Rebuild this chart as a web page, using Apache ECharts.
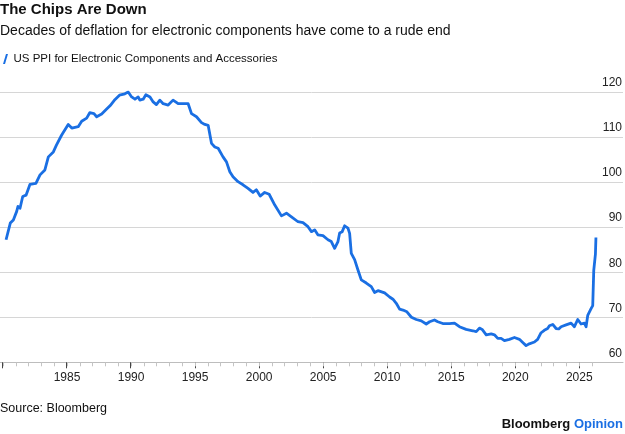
<!DOCTYPE html>
<html>
<head>
<meta charset="utf-8">
<script src="https://cdn.jsdelivr.net/npm/echarts@6/dist/echarts.min.js"></script>
<style>
  html, body { margin: 0; padding: 0; background: #fff; }
  #chart { width: 625px; height: 434px; }
</style>
</head>
<body>
<div id="chart"></div>
<script>
// US PPI, electronic components & accessories
var years = [
  1980.27, 1980.6, 1980.84, 1981.1, 1981.2, 1981.36, 1981.57, 1981.83, 1982.14, 1982.6,
  1982.92, 1983.3, 1983.57, 1983.96, 1984.2, 1984.6, 1985.12, 1985.4, 1985.9, 1986.17,
  1986.56, 1986.8, 1987.13, 1987.34, 1987.73, 1988.12, 1988.4, 1988.76, 1989.12, 1989.54,
  1989.8, 1990.07, 1990.33, 1990.58, 1990.71, 1990.97, 1991.18, 1991.5, 1991.75, 1992.0,
  1992.27, 1992.53, 1992.92, 1993.3, 1993.7, 1994.09, 1994.48, 1994.74, 1995.13, 1995.52,
  1995.78, 1996.04, 1996.3, 1996.56, 1996.82, 1997.2, 1997.47, 1997.73, 1997.98, 1998.37,
  1998.76, 1999.15, 1999.54, 1999.8, 2000.1, 2000.45, 2000.8, 2001.24, 2001.76, 2002.15,
  2002.54, 2003.05, 2003.44, 2003.83, 2004.1, 2004.35, 2004.6, 2005.0, 2005.39, 2005.65,
  2005.91, 2006.04, 2006.17, 2006.3, 2006.5, 2006.69, 2006.95, 2007.08, 2007.21, 2007.47,
  2007.73, 2007.99, 2008.38, 2008.77, 2009.03, 2009.29, 2009.81, 2010.2, 2010.46, 2010.72,
  2010.98, 2011.24, 2011.55, 2011.9, 2012.28, 2012.67, 2013.06, 2013.32, 2013.7, 2013.96,
  2014.35, 2014.87, 2015.26, 2015.65, 2016.17, 2016.69, 2016.96, 2017.21, 2017.42, 2017.74,
  2018.13, 2018.38, 2018.64, 2018.9, 2019.16, 2019.55, 2019.94, 2020.33, 2020.59, 2020.85,
  2021.1, 2021.5, 2021.75, 2022.0, 2022.27, 2022.53, 2022.67, 2022.93, 2023.19, 2023.4,
  2023.58, 2023.97, 2024.36, 2024.62, 2024.88, 2025.14, 2025.4, 2025.53, 2025.66, 2025.92,
  2026.05, 2026.13, 2026.26, 2026.3
];
var ppi = [
  87.2, 90.9, 91.6, 93.5, 94.6, 94.2, 96.8, 97.1, 99.5, 99.7,
  101.6, 102.7, 105.6, 106.7, 108.2, 110.4, 112.8, 112.0, 112.3, 113.5,
  114.2, 115.4, 115.2, 114.5, 115.1, 116.2, 117.0, 118.3, 119.3, 119.6,
  120.0, 118.9, 118.4, 118.9, 118.2, 118.4, 119.4, 118.9, 117.8, 117.2,
  118.2, 117.4, 117.1, 118.2, 117.4, 117.4, 117.4, 115.2, 114.5, 113.2,
  112.8, 112.6, 108.6, 107.8, 107.5, 105.6, 104.5, 102.3, 101.2, 100.1,
  99.4, 98.6, 97.7, 98.3, 96.9, 97.7, 97.3, 94.9, 92.5, 93.1,
  92.3, 91.2, 91.0, 90.1, 89.0, 89.4, 88.3, 88.1, 87.2, 86.8,
  85.3, 84.9, 86.8, 88.7, 89.0, 90.3, 89.8, 88.6, 84.2, 82.8,
  80.5, 78.3, 77.6, 76.8, 75.5, 75.9, 75.4, 74.5, 74.0, 73.1,
  71.8, 71.6, 71.2, 70.0, 69.5, 69.2, 68.5, 69.0, 69.4, 69.0,
  68.6, 68.6, 68.7, 67.9, 67.3, 67.0, 66.8, 67.6, 67.3, 66.1,
  66.3, 66.1, 65.3, 65.3, 64.8, 65.1, 65.5, 65.1, 64.4, 63.7,
  64.1, 64.5, 65.1, 66.5, 67.1, 67.5, 68.1, 68.4, 67.5, 67.4,
  67.9, 68.3, 68.7, 67.9, 69.5, 68.5, 68.7, 67.9, 70.4, 71.9,
  72.6, 80.4, 84.0, 87.7
];
var xLabelYears = [1985, 1990, 1995, 2000, 2005, 2010, 2015, 2020, 2025];
var yTicks = [60, 70, 80, 90, 100, 110, 120];

var seriesName = 'US PPI for Electronic Components and Accessories';
var blue = '#1a6fe3';
var font = 'Liberation Sans, Arial, sans-serif';

var chart = echarts.init(document.getElementById('chart'), null, { renderer: 'canvas' });

var data = years.map(function (y, i) { return [y, ppi[i]]; });

var yMin = yTicks[0];
var yMax = yTicks[yTicks.length - 1];
var yStep = yTicks[1] - yTicks[0];
var xEnd = years[years.length - 1];

// pixel layout: 1980 sits at x=2.6, one year is ~12.815px
var x0 = 2.6, pxPerYear = 12.815;
function rightFor(year) { return 625 - (x0 + (year - 1980) * pxPerYear); }

var gridTop = 92, gridBottom = 71.7;

var option = {
  backgroundColor: '#fff',
  animation: false,
  title: [
    {
      text: 'The Chips Are Down',
      left: 0, top: 2, padding: 0,
      textStyle: { fontFamily: font, fontSize: 15, fontWeight: 'bold', color: '#111' }
    },
    {
      text: 'Decades of deflation for electronic components have come to a rude end',
      left: 0, top: 24, padding: 0,
      textStyle: { fontFamily: font, fontSize: 14, fontWeight: 'normal', color: '#111' }
    },
    {
      text: 'Source: Bloomberg',
      left: 0, top: 402, padding: 0,
      textStyle: { fontFamily: font, fontSize: 12.5, fontWeight: 'normal', color: '#111' }
    },
    {
      text: '{a|Bloomberg} {b|Opinion}',
      right: 2, top: 418, padding: 0,
      textStyle: {
        fontFamily: font, fontSize: 13,
        rich: {
          a: { fontFamily: font, fontSize: 13, fontWeight: 'bold', color: '#111' },
          b: { fontFamily: font, fontSize: 13, fontWeight: 'bold', color: blue }
        }
      }
    }
  ],
  legend: {
    data: [seriesName],
    left: 3, top: 53, padding: 0,
    icon: 'path://M3,0 L5,0 L2,10 L0,10 Z',
    itemWidth: 6, itemHeight: 10,
    textStyle: { fontFamily: font, fontSize: 11.5, color: '#111' }
  },
  grid: [
    // data area, 1980 .. last observation
    { left: x0, right: rightFor(xEnd), top: gridTop, bottom: gridBottom },
    // full-width frame: gridlines, baseline, value labels
    { left: 0, right: 1, top: gridTop, bottom: gridBottom },
    // major ticks every 5 years
    { left: x0, right: rightFor(2025), top: gridTop, bottom: gridBottom },
    // yearly minor ticks + year labels
    { left: x0, right: rightFor(2026), top: gridTop, bottom: gridBottom }
  ],
  xAxis: [
    { gridIndex: 0, type: 'value', min: 1980, max: xEnd, show: false },
    {
      gridIndex: 1, type: 'value', min: 0, max: 1,
      axisLine: { show: true, lineStyle: { color: '#bdbdbd', width: 1 } },
      axisTick: { show: false },
      axisLabel: { show: false },
      splitLine: { show: false }
    },
    {
      gridIndex: 2, type: 'value', min: 1980, max: 2025, interval: 5,
      axisLine: { show: false },
      axisTick: { show: true, length: 6, lineStyle: { color: '#444', width: 1 } },
      axisLabel: { show: false },
      splitLine: { show: false }
    },
    {
      gridIndex: 3, type: 'value', min: 1980, max: 2026, interval: 1,
      axisLine: { show: false },
      axisTick: { show: true, length: 4, lineStyle: { color: '#c4c4c4', width: 1 } },
      axisLabel: {
        margin: 9, fontFamily: font, fontSize: 12, color: '#222',
        formatter: function (v) {
          return xLabelYears.indexOf(v) >= 0 ? String(v) : '';
        }
      },
      splitLine: { show: false }
    }
  ],
  yAxis: [
    { gridIndex: 0, type: 'value', min: yMin, max: yMax, interval: yStep, show: false },
    {
      gridIndex: 1, type: 'value', position: 'right', min: yMin, max: yMax, interval: yStep,
      axisLine: { show: false },
      axisTick: { show: false },
      axisLabel: {
        inside: true, margin: 1, verticalAlign: 'bottom', padding: [0, 0, 3, 0],
        fontFamily: font, fontSize: 12, color: '#222'
      },
      splitLine: { show: true, lineStyle: { color: '#d6d6d6', width: 1 } }
    },
    { gridIndex: 2, type: 'value', min: yMin, max: yMax, interval: yStep, show: false },
    { gridIndex: 3, type: 'value', min: yMin, max: yMax, interval: yStep, show: false }
  ],
  series: [
    {
      name: seriesName,
      type: 'line',
      xAxisIndex: 0,
      yAxisIndex: 0,
      data: data,
      showSymbol: false,
      symbol: 'none',
      color: blue,
      lineStyle: { color: blue, width: 2.8, join: 'round' },
      itemStyle: { color: blue },
      z: 5
    }
  ]
};

chart.setOption(option);
</script>
</body>
</html>
